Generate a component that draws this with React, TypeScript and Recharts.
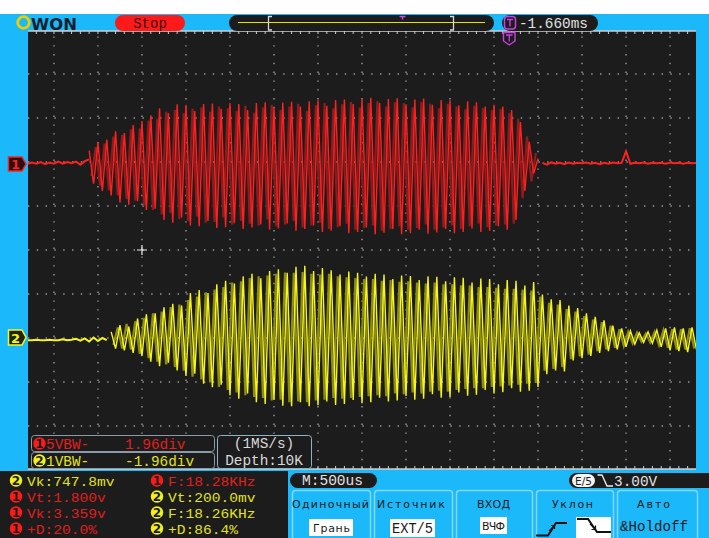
import React from 'react';
import { ComposedChart, Line, XAxis, YAxis, ReferenceLine, ReferenceDot, CartesianGrid } from 'recharts';

// ---------- axes / grid (divisions) ----------
const X_DOMAIN: [number, number] = [-7.59, 7.59];
const Y_DOMAIN: [number, number] = [-4.977, 4.977];
const GRID_X = [-7, -6, -5, -4, -3, -2, -1, 0, 1, 2, 3, 4, 5, 6, 7];
const GRID_Y = [-4, -3, -2, -1, 0, 1, 2, 3, 4];
const CURSOR_MARKS = [{ x: -5, y: 0 }];
const MINOR_STEP = 0.2;

// ---------- channel offsets (div) ----------
const CH1_OFFSET = 1.96;
const CH2_OFFSET = -1.96;
const STEP = 0.1; // sample spacing in divisions

// ---------- CH1 (red) samples, divisions relative to CH1 ground ----------
const ch1FlatLeftStart = -7.6;
const ch1FlatLeft = [0.0, 0.03, 0.0, 0.04, -0.01, 0.03, 0.0, 0.05, 0.0, 0.04, 0.01, 0.05, -0.02, 0.06, 0.1];
const ch1BrightStart = -6.2;
const ch1Bright = [
  0.30, -0.45, 0.48, -0.62, 0.55, -0.72, 0.74, -0.88, 0.70, -0.93,
  0.88, -0.85, 0.97, -1.05, 1.10, -1.02, 1.26, -1.28, 1.15, -1.34,
  1.35, -1.22, 1.34, -1.40, 1.20, -1.42, 1.36, -1.30, 1.37, -1.46,
  1.25, -1.44, 1.38, -1.35, 1.36, -1.48, 1.22, -1.45, 1.38, -1.38,
  1.40, -1.50, 1.28, -1.47, 1.39, -1.36, 1.41, -1.52, 1.30, -1.48,
  1.42, -1.40, 1.44, -1.55, 1.32, -1.52, 1.45, -1.42, 1.46, -1.58,
  1.36, -1.55, 1.48, -1.45, 1.50, -1.60, 1.38, -1.57, 1.47, -1.48,
  1.49, -1.60, 1.35, -1.58, 1.46, -1.50, 1.48, -1.59, 1.34, -1.56,
  1.45, -1.48, 1.44, -1.58, 1.33, -1.55, 1.42, -1.47, 1.40, -1.55,
  1.30, -1.52, 1.34, -1.42, 1.30, -1.50, 1.22, -1.28, 0.95, -0.62,
  0.50, -0.22, 0.12,
];
const ch1DimStart = -6.15;
const ch1Dim = [
  -0.28, 0.38, -0.50, 0.46, -0.60, 0.62, -0.72, 0.66, -0.80, 0.78,
  -0.84, 0.80, -0.95, 0.98, -1.05, 1.02, -1.15, 1.18, -1.12, 1.22,
  -1.26, 1.15, -1.30, 1.25, -1.20, 1.28, -1.34, 1.18, -1.32, 1.30,
  -1.22, 1.26, -1.38, 1.20, -1.30, 1.32, -1.36, 1.16, -1.40, 1.28,
  -1.26, 1.34, -1.42, 1.22, -1.38, 1.30, -1.30, 1.36, -1.45, 1.20,
  -1.40, 1.33, -1.34, 1.38, -1.48, 1.26, -1.44, 1.35, -1.36, 1.40,
  -1.50, 1.28, -1.46, 1.38, -1.40, 1.42, -1.52, 1.30, -1.48, 1.40,
  -1.42, 1.38, -1.50, 1.28, -1.46, 1.40, -1.38, 1.36, -1.50, 1.26,
  -1.45, 1.36, -1.40, 1.30, -1.48, 1.24, -1.42, 1.32, -1.36, 1.26,
  -1.44, 1.22, -1.40, 1.25, -1.38, 1.15, -1.36, 1.02, -0.78, 0.62,
  -0.40, 0.24,
];
const ch1FlatRightStart = 4.1;
const ch1FlatRight = [
  0.02, -0.02, 0.03, 0.0, 0.02, -0.01, 0.03, 0.0, 0.02, 0.01,
  0.03, 0.0, 0.02, -0.01, 0.02, 0.0, 0.03, 0.01, 0.02, 0.28,
  0.0, 0.02, 0.01, 0.03, 0.0, 0.02, 0.01, 0.02, 0.0, 0.03,
  0.01, 0.02, 0.0, 0.02, 0.01, 0.02,
];

// ---------- CH2 (yellow) samples, divisions relative to CH2 ground ----------
const ch2FlatLeftStart = -7.6;
const ch2FlatLeft = [
  -0.09, -0.09, -0.08, -0.09, -0.09, -0.08, -0.09, -0.09, -0.07, -0.09,
  -0.08, -0.06, -0.10, -0.05, -0.12, -0.03, -0.11, -0.04, -0.09,
];
const ch2BrightStart = -5.7;
const ch2Bright = [
  0.10, -0.28, 0.25, -0.32, 0.22, -0.38, 0.40, -0.45, 0.50, -0.58,
  0.52, -0.68, 0.66, -0.60, 0.74, -0.78, 0.70, -0.90, 0.98, -0.85,
  1.05, -1.08, 0.98, -1.16, 1.18, -1.10, 1.26, -1.34, 1.20, -1.42,
  1.36, -1.30, 1.42, -1.50, 1.32, -1.54, 1.48, -1.45, 1.52, -1.58,
  1.44, -1.59, 1.58, -1.50, 1.60, -1.59, 1.48, -1.57, 1.55, -1.48,
  1.50, -1.56, 1.40, -1.54, 1.47, -1.45, 1.44, -1.52, 1.36, -1.50,
  1.42, -1.40, 1.40, -1.48, 1.30, -1.46, 1.38, -1.36, 1.37, -1.44,
  1.28, -1.42, 1.36, -1.32, 1.35, -1.40, 1.25, -1.38, 1.34, -1.28,
  1.33, -1.35, 1.22, -1.33, 1.31, -1.22, 1.30, -1.30, 1.18, -1.27,
  1.28, -1.18, 1.26, -1.26, 1.15, -1.24, 1.23, -1.15, 0.95, -0.86,
  0.84, -0.78, 0.82, -0.80, 0.70, -0.55, 0.64, -0.50, 0.52, -0.45,
  0.44, -0.38, 0.36, -0.34, 0.24, -0.30, 0.18, -0.24, 0.12, -0.18,
  0.08, -0.14, 0.10, -0.16, 0.14, -0.24, 0.18, -0.32, 0.20, -0.34,
  0.18, -0.36, 0.20, -0.30,
];
const ch2DimStart = -5.65;
const ch2Dim = [
  -0.20, 0.20, -0.28, 0.28, -0.30, 0.34, -0.40, 0.42, -0.50, 0.52,
  -0.58, 0.56, -0.64, 0.66, -0.70, 0.72, -0.78, 0.82, -0.92, 0.90,
  -0.98, 1.00, -1.05, 1.06, -1.15, 1.12, -1.22, 1.22, -1.28, 1.25,
  -1.34, 1.32, -1.38, 1.36, -1.40, 1.38, -1.46, 1.42, -1.44, 1.45,
  -1.50, 1.44, -1.48, 1.46, -1.50, 1.42, -1.46, 1.40, -1.44, 1.42,
  -1.40, 1.36, -1.42, 1.34, -1.40, 1.32, -1.38, 1.30, -1.36, 1.30,
  -1.34, 1.26, -1.36, 1.28, -1.30, 1.24, -1.32, 1.25, -1.28, 1.22,
  -1.30, 1.20, -1.26, 1.22, -1.24, 1.18, -1.26, 1.18, -1.22, 1.16,
  -1.20, 1.15, -1.18, 1.12, -1.18, 1.12, -1.15, 1.10, -1.14, 1.08,
  -1.12, 1.08, -1.10, 1.06, -1.08, 1.04, -1.06, 0.90, -0.78, 0.76,
  -0.74, 0.72, -0.70, 0.62, -0.52, 0.56, -0.46, 0.46, -0.42, 0.38,
  -0.34, 0.32, -0.30, 0.24, -0.26, 0.16, -0.22, 0.10, -0.16, 0.08,
  -0.12, 0.06, -0.14, 0.10, -0.20, 0.14, -0.26, 0.16, -0.30, 0.16,
  -0.30, 0.18, -0.28,
];

// ---------- texts ----------
const TOP_STATUS = 'Stop';
const TRIG_TIME = '-1.660ms';
const LOGO_TEXT = 'WON';
const CH_INFO = [
  { ch: '1', label: '5VBW-', value: '1.96div' },
  { ch: '2', label: '1VBW-', value: '-1.96div' },
];
const SAMPLE_INFO = ['(1MS/s)', 'Depth:10K'];
const MEAS_COL1 = [
  { ch: '2', text: 'Vk:747.8mv' },
  { ch: '1', text: 'Vt:1.800v' },
  { ch: '1', text: 'Vk:3.359v' },
  { ch: '1', text: '+D:20.0%' },
];
const MEAS_COL2 = [
  { ch: '1', text: 'F:18.28KHz' },
  { ch: '2', text: 'Vt:200.0mv' },
  { ch: '2', text: 'F:18.26KHz' },
  { ch: '2', text: '+D:86.4%' },
];
const TIMEBASE = 'M:500us';
const TRIG_SRC = 'E/5';
const TRIG_LEVEL = '3.00V';
const MENU_TITLES = ['Одиночный', 'Источник', 'ВХОД', 'Уклон', 'Авто'];
const MENU_VALUES = ['Грань', 'EXT/5', 'ВЧФ', '', '&Holdoff'];

// ---------- style ----------
const CYAN = '#1bb9fa';
const PLOT_BG = '#1c1c1c';
const RED = '#ff2020';
const RED_DIM = '#8e1c1c';
const YEL = '#f6f61c';
const YEL_DIM = '#8c8c16';
const TXT_RED = '#e21e1e';
const TXT_YEL = '#e2e21e';
const BORDER = '#cfcfcf';
const DOT = '#9a9a9a';
const MONO = "'Liberation Mono', 'DejaVu Sans Mono', monospace";
const SANS = "'DejaVu Sans', sans-serif";

const series = (start: number, vals: number[], offset: number) =>
  vals.map((v, i) => ({ x: +(start + i * STEP).toFixed(3), y: v + offset }));

const ticksFrom = (lo: number, hi: number) => {
  const out: number[] = [];
  for (let k = Math.ceil(lo / MINOR_STEP); k * MINOR_STEP <= hi; k++) out.push(+(k * MINOR_STEP).toFixed(2));
  return out;
};
const MINOR_X = ticksFrom(X_DOMAIN[0], X_DOMAIN[1]);
const MINOR_Y = ticksFrom(Y_DOMAIN[0], Y_DOMAIN[1]);

const W = 709;
const H = 538;

const Badge = ({ cx, cy, ch }: { cx: number; cy: number; ch: string }) => (
  <g>
    <circle cx={cx} cy={cy} r={6.2} fill={ch === '1' ? '#ff1a1a' : '#f2f21a'} />
    <text x={cx} y={cy + 4.5} textAnchor="middle" fontFamily={SANS} fontSize={12} fontWeight="bold" fill="#1c1c1c">
      {ch}
    </text>
  </g>
);

const PlusShape = (props: any) => {
  const { cx, cy } = props;
  return (
    <path d={`M${cx - 5} ${cy} H${cx + 5} M${cx} ${cy - 5} V${cy + 5}`} stroke="#f0f0f0" strokeWidth={1.2} fill="none" />
  );
};

const Overlay = () => {
  const btnX = [292, 374, 456, 536, 617];
  const btnW = [78, 78, 76, 77, 80];
  const titleSpan = [
    [292, 77],
    [377, 68],
    [477, 33],
    [552, 41],
    [637, 33],
  ];
  const rowY = [480.5, 496.5, 512.5, 528.5];
  return (
    <svg width={W} height={H} style={{ position: 'absolute', left: 0, top: 0, pointerEvents: 'none' }}>
      {/* top white strip */}
      <rect x={0} y={0} width={W} height={14} fill="#ffffff" />
      {/* logo */}
      <circle cx={23.5} cy={22.5} r={5.8} fill="none" stroke="#f0cc00" strokeWidth={2.8} />
      <text x={31} y={29.5} fontFamily={SANS} fontWeight="bold" fontSize={16} fill="#1a1f2e" textLength={46} lengthAdjust="spacingAndGlyphs">
        {LOGO_TEXT}
      </text>
      {/* Stop */}
      <rect x={115} y={15} width={70} height={16} rx={8} fill="#ff1a1a" />
      <text x={150} y={28} textAnchor="middle" fontFamily={MONO} fontSize={14} fill="#3a0a0a">
        {TOP_STATUS}
      </text>
      {/* memory bar */}
      <rect x={229} y={15} width={265} height={16} rx={8} fill={PLOT_BG} />
      <line x1={238} x2={485} y1={22.5} y2={22.5} stroke="#e4e400" strokeWidth={1.2} />
      <path d="M272 16.5 H268.5 V30 H272" fill="none" stroke="#d8d8d8" strokeWidth={1.3} />
      <path d="M450 16.5 H453.5 V30 H450" fill="none" stroke="#d8d8d8" strokeWidth={1.3} />
      <path d="M399.5 16.5 H405.5 M402.5 16.5 V19.5" stroke="#e040e0" strokeWidth={1.5} />
      {/* trigger time */}
      <rect x={502} y={15} width={96} height={16} rx={8} fill={PLOT_BG} />
      <rect x={504.5} y={16.5} width={11} height={12.5} rx={3} fill="none" stroke="#c840e0" strokeWidth={1.5} />
      <path d="M507 19.5 H513 M510 19.5 V26.5" stroke="#c840e0" strokeWidth={1.4} />
      <text x={519} y={28} fontFamily={MONO} fontSize={14.4} fill="#e2e2e2" textLength={69} lengthAdjust="spacingAndGlyphs">
        {TRIG_TIME}
      </text>
      {/* trigger position marker */}
      <path d="M503.5 32.5 H515 V41 L509.25 45 L503.5 41 Z" fill={PLOT_BG} stroke="#c840e0" strokeWidth={1.4} />
      <path d="M506 35 H512.5 M509.25 35 V41.5" stroke="#c840e0" strokeWidth={1.3} />

      {/* channel markers */}
      <path d="M8.5 157 H22 L26 164 L22 171 H8.5 Z" fill="#2a1010" stroke={RED} strokeWidth={1.5} />
      <text x={15.5} y={169} textAnchor="middle" fontFamily={SANS} fontWeight="bold" fontSize={13} fill={RED}>
        1
      </text>
      <path d="M8.5 330 H22 L26 337.5 L22 345 H8.5 Z" fill="#222210" stroke={YEL} strokeWidth={1.5} />
      <text x={15.5} y={342.5} textAnchor="middle" fontFamily={SANS} fontWeight="bold" fontSize={13} fill={YEL}>
        2
      </text>

      {/* channel info boxes */}
      {CH_INFO.map((c, i) => {
        const y = 435 + i * 17;
        const col = c.ch === '1' ? TXT_RED : TXT_YEL;
        return (
          <g key={c.ch}>
            <rect x={31.5} y={y + 0.5} width={183} height={16} rx={3} fill={PLOT_BG} stroke="#8a9aa6" strokeWidth={1} />
            <Badge cx={39.5} cy={y + 8.5} ch={c.ch} />
            <text x={46} y={y + 13.5} fontFamily={MONO} fontSize={14.4} fill={col}>
              {c.label}
            </text>
            <text x={125} y={y + 13.5} fontFamily={MONO} fontSize={14.4} fill={col}>
              {c.value}
            </text>
          </g>
        );
      })}
      <rect x={217.5} y={435.5} width={94} height={33} rx={3} fill={PLOT_BG} stroke="#8ab4c8" strokeWidth={1} />
      {SAMPLE_INFO.map((t, i) => (
        <text key={t} x={264} y={448 + i * 17} textAnchor="middle" fontFamily={MONO} fontSize={14.4} fill="#dadada">
          {t}
        </text>
      ))}

      {/* bottom measurement panel */}
      <rect x={0} y={471} width={288} height={67} fill={PLOT_BG} />
      {MEAS_COL1.map((m, i) => (
        <g key={'a' + i}>
          <Badge cx={16} cy={rowY[i]} ch={m.ch} />
          <text x={27} y={rowY[i] + 5} fontFamily={MONO} fontSize={13.5} fill={m.ch === '1' ? TXT_RED : TXT_YEL} textLength={m.text.length * 8.75} lengthAdjust="spacingAndGlyphs">
            {m.text}
          </text>
        </g>
      ))}
      {MEAS_COL2.map((m, i) => (
        <g key={'b' + i}>
          <Badge cx={157} cy={rowY[i]} ch={m.ch} />
          <text x={168} y={rowY[i] + 5} fontFamily={MONO} fontSize={13.5} fill={m.ch === '1' ? TXT_RED : TXT_YEL} textLength={m.text.length * 8.75} lengthAdjust="spacingAndGlyphs">
            {m.text}
          </text>
        </g>
      ))}

      {/* timebase pill */}
      <rect x={290} y={473} width={87} height={15} rx={7.5} fill={PLOT_BG} />
      <text x={302} y={485} fontFamily={MONO} fontSize={14.4} fill="#e2e2e2" textLength={61} lengthAdjust="spacingAndGlyphs">
        {TIMEBASE}
      </text>
      {/* trigger pill */}
      <rect x={569} y={473} width={150} height={15} rx={7.5} fill={PLOT_BG} />
      <rect x={572} y={474} width={23} height={13} rx={6.5} fill="#f4f4f4" />
      <text x={583.5} y={484.5} textAnchor="middle" fontFamily={SANS} fontSize={10.5} fill="#1c1c1c">
        {TRIG_SRC}
      </text>
      <path d="M597.5 475 H602 L607 486 H613" fill="none" stroke="#f0f0f0" strokeWidth={1.3} />
      <text x={614} y={485.5} fontFamily={MONO} fontSize={14.4} fill="#e2e2e2">
        {TRIG_LEVEL}
      </text>

      {/* menu buttons */}
      {btnX.map((bx, i) => (
        <g key={'btn' + i}>
          <rect x={bx + 0.5} y={490.5} width={btnW[i]} height={50} rx={3} fill={CYAN} stroke="#7ed8ff" strokeWidth={1.5} />
          <text
            x={titleSpan[i][0]}
            y={508}
            fontFamily={SANS}
            fontSize={11}
            fill="#1a1a1a"
            textLength={titleSpan[i][1]}
            lengthAdjust="spacing"
          >
            {MENU_TITLES[i]}
          </text>
        </g>
      ))}
      {/* values */}
      <rect x={309} y={519} width={44} height={17} fill="#ffffff" />
      <text x={313} y={531.5} fontFamily={SANS} fontSize={11} fill="#1a1a1a" textLength={37} lengthAdjust="spacing">
        {MENU_VALUES[0]}
      </text>
      <rect x={390} y={519} width={45} height={18} fill="#ffffff" />
      <text x={392} y={532.5} fontFamily={MONO} fontSize={14.4} fill="#1a1a1a" textLength={41} lengthAdjust="spacingAndGlyphs">
        {MENU_VALUES[1]}
      </text>
      <rect x={480} y={517} width={27} height={17} fill="#ffffff" />
      <text x={482} y={529.5} fontFamily={SANS} fontSize={11} fill="#1a1a1a" textLength={23} lengthAdjust="spacing">
        {MENU_VALUES[2]}
      </text>
      <path d="M536 535.5 H548 L556 523 H567" fill="none" stroke="#111" strokeWidth={2} />
      <path d="M549 531 L554 526 M551 525.5 H554.5 V529" fill="none" stroke="#111" strokeWidth={1.2} />
      <rect x={576} y={517} width={35} height={21} fill="#ffffff" />
      <path d="M577 519 H588 L597 532 H611" fill="none" stroke="#111" strokeWidth={2} />
      <path d="M590 524 L595 529 M591.5 529.5 H595.5 V525.5" fill="none" stroke="#111" strokeWidth={1.2} />
      <text x={620} y={530.5} fontFamily={MONO} fontSize={14.4} fill="#1a1a1a" textLength={68} lengthAdjust="spacingAndGlyphs">
        {MENU_VALUES[4]}
      </text>
    </svg>
  );
};

export default function App() {
  const ax = { xAxisId: 'b', yAxisId: 'l' } as const;
  const lineCommon = {
    ...ax,
    type: 'linear' as const,
    dataKey: 'y',
    dot: false,
    activeDot: false,
    isAnimationActive: false,
  };
  const axisCommon = {
    type: 'number' as const,
    allowDataOverflow: true,
    interval: 0 as const,
    mirror: true,
    tickSize: 3,
    tickFormatter: () => '',
    axisLine: { stroke: BORDER, strokeWidth: 1.5 },
    tickLine: { stroke: BORDER },
  };
  return (
    <div style={{ position: 'absolute', left: 0, top: 0, width: W, height: H, background: CYAN, overflow: 'hidden' }}>
      <div style={{ position: 'absolute', left: 0, top: 0 }}>
        <ComposedChart width={W} height={H} margin={{ top: 31, right: 13, bottom: 69, left: 28 }}>
          <CartesianGrid xAxisId="b" yAxisId="l" horizontal={false} vertical={false} fill={PLOT_BG} fillOpacity={1} />
          <XAxis {...axisCommon} xAxisId="b" dataKey="x" domain={X_DOMAIN} ticks={MINOR_X} orientation="bottom" />
          <XAxis {...axisCommon} xAxisId="t" dataKey="x" domain={X_DOMAIN} ticks={MINOR_X} orientation="top" />
          <YAxis {...axisCommon} yAxisId="l" domain={Y_DOMAIN} ticks={MINOR_Y} orientation="left" width={0} />
          <YAxis {...axisCommon} yAxisId="r" domain={Y_DOMAIN} ticks={MINOR_Y} orientation="right" width={0} />
          {GRID_X.map((g) => (
            <ReferenceLine key={'gx' + g} {...ax} x={g} stroke={DOT} strokeWidth={1.4} strokeDasharray="1.4 7.4" />
          ))}
          {GRID_Y.map((g) => (
            <ReferenceLine key={'gy' + g} {...ax} y={g} stroke={DOT} strokeWidth={1.4} strokeDasharray="1.4 7.4" />
          ))}
          {CURSOR_MARKS.map((m, i) => (
            <ReferenceDot key={'cm' + i} {...ax} x={m.x} y={m.y} r={5} shape={PlusShape} />
          ))}
          <Line {...lineCommon} data={series(ch1FlatLeftStart, ch1FlatLeft, CH1_OFFSET)} stroke={RED} strokeWidth={2} />
          <Line {...lineCommon} data={series(ch1FlatRightStart, ch1FlatRight, CH1_OFFSET)} stroke={RED} strokeWidth={2} />
          <Line {...lineCommon} data={series(ch1DimStart, ch1Dim, CH1_OFFSET)} stroke={RED_DIM} strokeWidth={2.2} />
          <Line {...lineCommon} data={series(ch1BrightStart, ch1Bright, CH1_OFFSET)} stroke={RED} strokeWidth={1.4} />
          <Line {...lineCommon} data={series(ch2FlatLeftStart, ch2FlatLeft, CH2_OFFSET)} stroke={YEL} strokeWidth={2} />
          <Line {...lineCommon} data={series(ch2DimStart, ch2Dim, CH2_OFFSET)} stroke={YEL_DIM} strokeWidth={2.2} />
          <Line {...lineCommon} data={series(ch2BrightStart, ch2Bright, CH2_OFFSET)} stroke={YEL} strokeWidth={1.4} />
        </ComposedChart>
      </div>
      <Overlay />
    </div>
  );
}
